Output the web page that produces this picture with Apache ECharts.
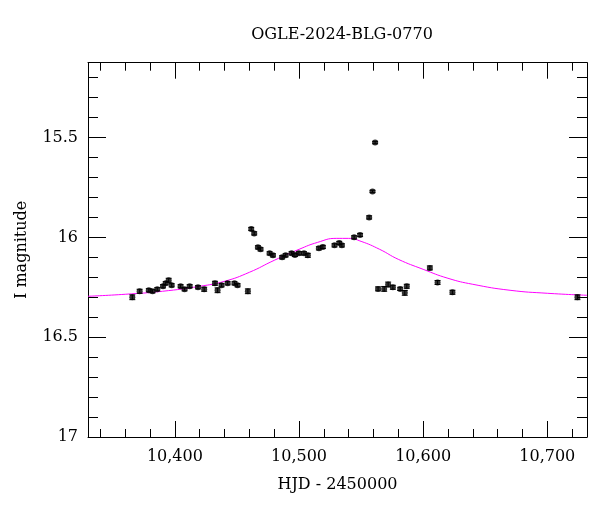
<!DOCTYPE html>
<html><head><meta charset="utf-8">
<script src="https://cdn.jsdelivr.net/npm/echarts@6/dist/echarts.min.js"></script>
<style>html,body{margin:0;padding:0;background:#fff}#c{width:600px;height:512px}</style>
</head><body><div id="c"></div>
<script>
const obsHJD = [10365.7,10371.6,10379,10382,10385.8,10390.4,10392.6,10395,10397.4,10404.6,10407.8,10411.9,10418.6,10423.6,10432.3,10434.4,10437.6,10442.5,10448,10450.5,10458.8,10461.5,10463.9,10466.9,10469,10476.3,10479,10486.4,10489.2,10494,10496.7,10499.9,10504,10507.1,10516,10519.2,10528.6,10532.4,10534.5,10544.4,10549.2,10556.5,10559.2,10561.3,10563.7,10568.6,10571.8,10575.6,10581.5,10585.2,10586.8,10605.4,10611.6,10623.6,10724.3];
const obsMag = [16.30,16.27,16.265,16.27,16.26,16.245,16.23,16.215,16.24,16.245,16.26,16.245,16.25,16.26,16.23,16.265,16.24,16.23,16.23,16.24,16.27,15.958,15.98,16.05,16.06,16.08,16.09,16.10,16.09,16.08,16.088,16.08,16.08,16.09,16.055,16.048,16.04,16.028,16.04,16.0,15.988,15.90,15.77,15.525,16.258,16.258,16.236,16.25,16.258,16.278,16.245,16.153,16.226,16.275,16.30];
const obsErr = [0.012,0.01,0.008,0.008,0.008,0.008,0.008,0.01,0.008,0.008,0.008,0.008,0.008,0.01,0.01,0.012,0.008,0.008,0.008,0.008,0.012,0.008,0.008,0.008,0.008,0.008,0.008,0.008,0.008,0.008,0.008,0.008,0.008,0.01,0.008,0.008,0.008,0.008,0.008,0.008,0.008,0.008,0.006,0.006,0.01,0.012,0.012,0.01,0.008,0.012,0.01,0.01,0.01,0.01,0.012];
const modelHJD = [10330,10360,10390,10420,10440,10460,10480,10500,10515,10530,10540,10550,10565,10580,10600,10620,10640,10670,10700,10732];
const modelMag = [16.295,16.285,16.27,16.245,16.22,16.175,16.115,16.06,16.025,16.005,16.005,16.02,16.06,16.11,16.16,16.205,16.235,16.265,16.28,16.29];
const xMajor = [10400,10500,10600,10700];
const xMinor = [10340,10360,10380,10420,10440,10460,10480,10520,10540,10560,10580,10620,10640,10660,10680,10720];
const yMajor = [15.5,16,16.5,17];
const yMinor = [15.2,15.3,15.4,15.6,15.7,15.8,15.9,16.1,16.2,16.3,16.4,16.6,16.7,16.8,16.9];

const FONT = 'DejaVu Serif';
const XMIN=10330, XMAX=10732, YMIN=15.125, YMAX=17;
function xa(pos, vals, len, labels, show){
  return {type:'value', min:XMIN, max:XMAX, position:pos, splitLine:{show:false},
    axisLine:{show:show, onZero:false, lineStyle:{color:'#000',width:1}},
    axisTick:{show:true, inside:true, length:len, customValues:vals, lineStyle:{color:'#000'}},
    axisLabel:{show:labels, customValues:vals, color:'#000', fontFamily:FONT, fontSize:16, margin:12},
    name: labels?'HJD - 2450000':'', nameLocation:'middle', nameGap:40,
    nameTextStyle:{color:'#000', fontFamily:FONT, fontSize:16}};
}
function ya(pos, vals, len, labels, show){
  return {type:'value', inverse:true, min:YMIN, max:YMAX, position:pos, splitLine:{show:false},
    axisLine:{show:show, onZero:false, lineStyle:{color:'#000',width:1}},
    axisTick:{show:true, inside:true, length:len, customValues:vals, lineStyle:{color:'#000'}},
    axisLabel:{show:labels, customValues:vals, color:'#000', fontFamily:FONT, fontSize:16, margin:10,
      formatter:v=>String(v)},
    name: labels?'I magnitude':'', nameLocation:'middle', nameGap:58,
    nameTextStyle:{color:'#000', fontFamily:FONT, fontSize:16}};
}
const chart = echarts.init(document.getElementById('c'));
const pts = obsHJD.map((x,i)=>[x,obsMag[i],obsErr[i]]);
chart.setOption({
  animation:false,
  title:{text:'OGLE-2024-BLG-0770', left:337, top:22, textAlign:'center',
    textStyle:{fontFamily:FONT, fontSize:16, fontWeight:'normal', color:'#000'}},
  grid:{left:88, right:13, top:62.7, bottom:75},
  xAxis:[xa('bottom',xMajor,16,true,true), xa('bottom',xMinor,8,false,false),
         xa('top',xMajor,16,false,true), xa('top',xMinor,8,false,false)],
  yAxis:[ya('left',yMajor,18,true,true), ya('left',yMinor,10,false,false),
         ya('right',yMajor,18,false,true), ya('right',yMinor,10,false,false)],
  series:[
    {type:'line', data:modelHJD.map((x,i)=>[x,modelMag[i]]), smooth:0.5, symbol:'none',
      lineStyle:{color:'#ff00ff', width:1}, z:1},
    {type:'custom', z:2, data:pts, renderItem:(p,api)=>{
      const x=api.value(0), y=api.value(1), e=api.value(2);
      const a=api.coord([x,y-e]), b=api.coord([x,y+e]);
      return {type:'group', children:[
        {type:'line', shape:{x1:a[0],y1:a[1],x2:b[0],y2:b[1]}, style:{stroke:'#000',lineWidth:1}},
        {type:'line', shape:{x1:a[0]-3,y1:a[1],x2:a[0]+3,y2:a[1]}, style:{stroke:'#000',lineWidth:1}},
        {type:'line', shape:{x1:b[0]-3,y1:b[1],x2:b[0]+3,y2:b[1]}, style:{stroke:'#000',lineWidth:1}}]};
    }},
    {type:'scatter', data:pts, symbol:'circle', symbolSize:6, itemStyle:{color:'#000'}, z:3}
  ]
});
</script></body></html>
